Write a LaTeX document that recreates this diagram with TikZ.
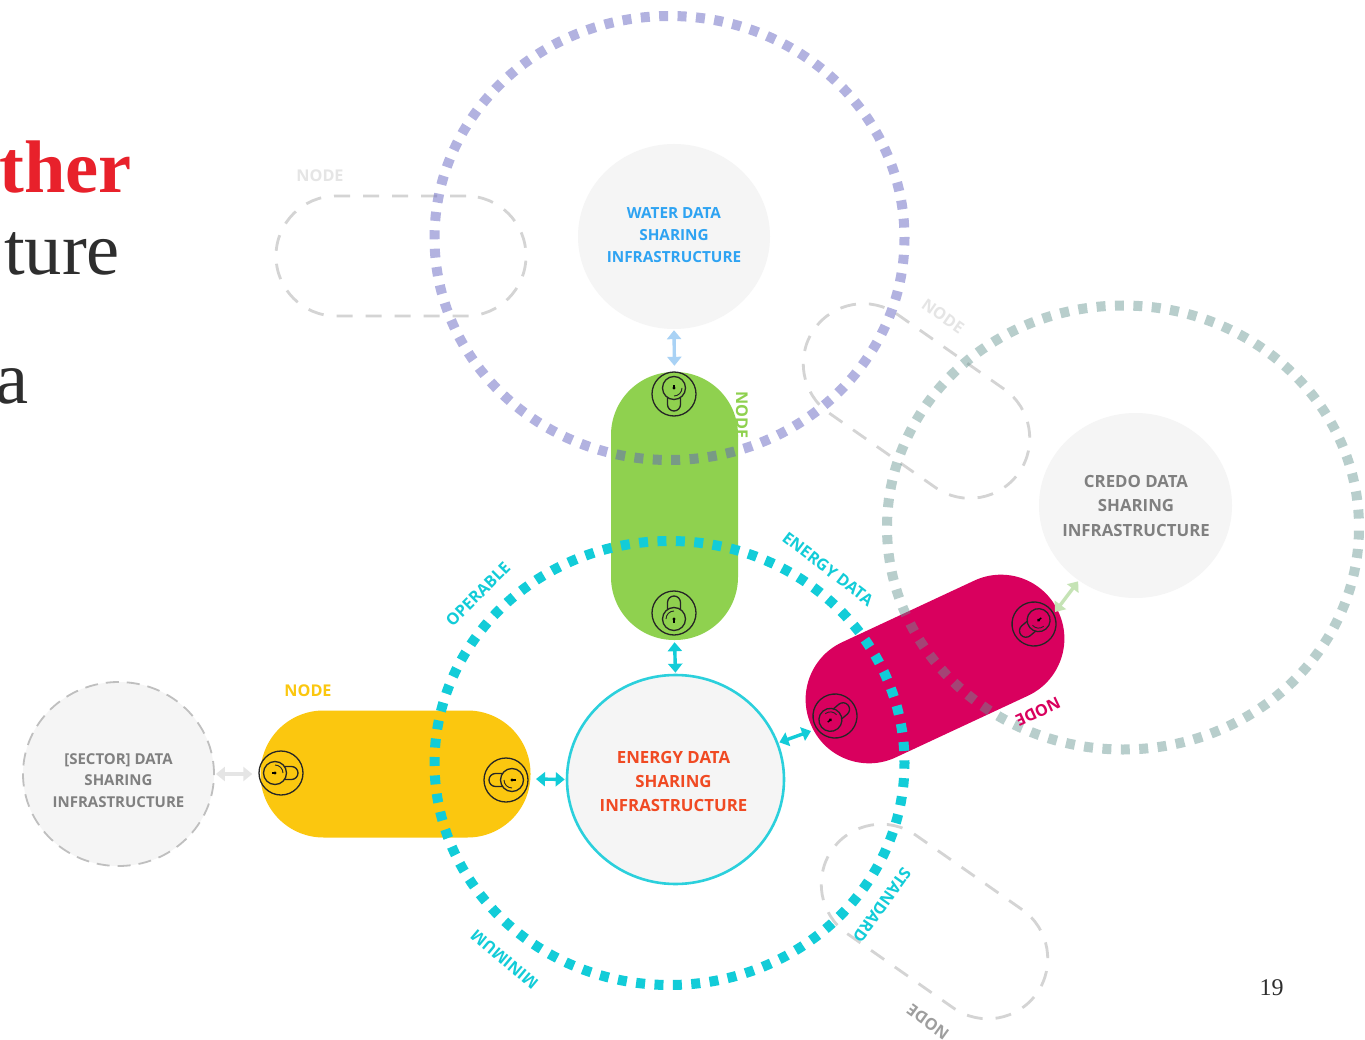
\documentclass[tikz,border=0pt]{standalone}
\usepackage{fontspec}
\setmainfont{Open Sans}
\newfontfamily\slidefont{Liberation Serif}
\usetikzlibrary{shapes.geometric,arrows.meta}
\definecolor{cgreen}{HTML}{8FD14F}
\definecolor{cyellow}{HTML}{FBC70F}
\definecolor{cmag}{HTML}{D9005E}
\definecolor{ccyan}{HTML}{12CCD8}
\definecolor{cring}{HTML}{2BD0DC}
\definecolor{cfill}{HTML}{F5F5F5}
\definecolor{cpurp}{RGB}{98,98,192}
\definecolor{cteal}{RGB}{102,150,146}
\definecolor{cdash}{HTML}{D4D4D4}
\definecolor{cred}{HTML}{E8212B}
\definecolor{cwater}{RGB}{46,163,242}
\definecolor{cenergy}{RGB}{240,74,35}
\definecolor{cablue}{RGB}{169,210,245}
\definecolor{cagreen}{RGB}{197,227,181}
\tikzset{
  x=1pt,y=-1pt,
  pill/.style={rectangle,rounded corners=63pt,inner sep=0pt,minimum width=270pt,minimum height=127pt,draw=none},
  ghost/.style={pill,draw=cdash,fill=none,line width=2.8pt,dash pattern=on 16pt off 13pt,minimum width=250pt,minimum height=120pt,rounded corners=60pt},
  ring/.style={line width=10pt,dash pattern=on 9pt off 9.42pt},
  hub/.style={ellipse,fill=cfill,inner sep=0pt},
  hubtext/.style={inner sep=0pt,align=center,font=\fontsize{15.3pt}{22pt}\selectfont\bfseries},
  tag/.style={inner sep=0pt,font=\fontsize{16.2pt}{18pt}\selectfont\bfseries},
  link/.style={line width=3.4pt,{Triangle[length=9pt,width=14pt]}-{Triangle[length=9pt,width=14pt]}},
  slide/.style={inner sep=0pt,anchor=base west,font=\fontsize{74.5pt}{80pt}\slidefont},
  lockicon/.pic={
    \draw[line width=1.3pt,draw=black!85] (0,0) circle[radius=22pt];
    \draw[line width=1.3pt,draw=black!85] (0,6) circle[radius=11.5pt];
    \draw[line width=1.3pt,draw=black!85] (-6.5,-3.5) -- (-6.5,-10.5) arc[start angle=180,end angle=0,radius=6.5pt] -- (6.5,-3.5);
    \draw[line width=.9pt,draw=black!85] (-8,6) arc[start angle=180,end angle=90,radius=8pt];
    \fill[black] (0,6) circle[radius=1.7pt];
    \fill[black] (-.7,6) rectangle (.7,9.5);
  }
}
\begin{document}
\begin{tikzpicture}
\useasboundingbox[fill=white] (0,0) rectangle (1365,1040);
% slide text
\node[slide,text=cred,font=\fontsize{74.5pt}{80pt}\slidefont\bfseries] (t1) at (-1,193) {ther};
\node[slide,text=black!82] (t2) at (4,275) {ture};
\node[slide,text=black!82] (t3) at (-5,403) {a};
\node[inner sep=0pt,anchor=base,text=black!82,font=\fontsize{24pt}{26pt}\slidefont] (pg) at (1271.5,995) {19};
% ghost nodes
\node[ghost] (g1) at (401,256) {};
\node[ghost,rotate=-35] (g2) at (916.5,401) {};
\node[ghost,rotate=-35] (g3) at (934.5,921.5) {};
\node[tag,text=black!10] (n1) at (320,176) {NODE};
\node[tag,text=black!10,rotate=-35] (n2) at (943,316) {NODE};
\node[tag,text=black!38,rotate=144] (n3) at (928,1022) {NODE};
% hubs
\node[hub,minimum width=192pt,minimum height=185pt] (water) at (674,236.5) {};
\node[hubtext,text=cwater] (waterlabel) at (674,235) {WATER DATA\\SHARING\\INFRASTRUCTURE};
\node[hub,minimum width=193pt,minimum height=185pt] (credo) at (1135.5,505.5) {};
\node[hubtext,text=black!50,font=\fontsize{16.8pt}{24.5pt}\selectfont\bfseries] (credolabel) at (1136,505.5) {CREDO DATA\\SHARING\\INFRASTRUCTURE};
\node[hub,minimum width=191pt,minimum height=184pt,draw=black!25,line width=1.8pt,dash pattern=on 13pt off 8pt] (sector) at (118.5,774) {};
\node[hubtext,text=black!50,font=\fontsize{15pt}{21.5pt}\selectfont\bfseries] (sectorlabel) at (118.5,780.5) {[SECTOR] DATA\\SHARING\\INFRASTRUCTURE};
\node[hub,minimum width=217pt,minimum height=209pt,draw=cring,line width=2.6pt] (energy) at (675.5,779.5) {};
\node[hubtext,text=cenergy,font=\fontsize{16.8pt}{24pt}\selectfont\bfseries] (energylabel) at (673.5,781) {ENERGY DATA\\SHARING\\INFRASTRUCTURE};
% pills
\node[pill,fill=cgreen,minimum width=127pt,minimum height=268pt] (green) at (674.5,506) {};
\node[pill,fill=cyellow] (yellow) at (395.5,774) {};
\node[pill,fill=cmag,rotate=25,minimum width=272pt] (magenta) at (935,669) {};
% rings
\draw[ring,cpurp,opacity=.49,dash phase=8pt] (669.5,238) ellipse[x radius=235pt,y radius=222pt];
\draw[ring,ccyan,dash phase=6.3pt] (669.5,763) ellipse[x radius=235pt,y radius=222pt];
\draw[ring,cteal,opacity=.46,dash phase=9.5pt] (1123,527.5) ellipse[x radius=236pt,y radius=222pt];
% connectors
\coordinate (magW) at (811,731);
\coordinate (magE) at (1055,612);
\coordinate (yelE) at (536,779);
\draw[link,color=cablue,shorten <=1pt,shorten >=6pt] (water.south) -- (green.north);
\draw[link,color=ccyan,shorten <=2pt,shorten >=1pt] (green.south) -- (energy.north);
\draw[link,color=ccyan,shorten >=1pt] (yelE) -- (energy.west);
\draw[link,color=black!10,shorten <=1pt,shorten >=8pt] (sector.east) -- (yellow.west);
\draw[link,color=ccyan,shorten <=1pt] (energy) -- (magW);
\draw[link,color=cagreen,shorten <=1pt] (credo) -- (magE);
% tags
\node[tag,text=cyellow] (n4) at (308,691) {NODE};
\node[tag,text=cgreen,rotate=-90] (n5) at (742,415) {NODE};
\node[tag,text=cmag,rotate=205] (n6) at (1038,712) {NODE};
\node[tag,text=ccyan,rotate=45] (n7) at (478,594) {OPERABLE};
\node[tag,text=ccyan,rotate=-37.5] (n8) at (828,569) {ENERGY DATA};
\node[tag,text=ccyan,rotate=234.5] (n9) at (882,905) {STANDARD};
\node[tag,text=ccyan,rotate=140] (n10) at (504.5,959.5) {MINIMUM};
% locks
\pic[rotate=180] at (674,394) {lockicon};
\pic at (674,613) {lockicon};
\pic[rotate=-90] at (281,773) {lockicon};
\pic[rotate=90] at (506,780) {lockicon};
\pic[rotate=-50] at (835,716) {lockicon};
\pic[rotate=130] at (1034,624) {lockicon};
\end{tikzpicture}
\end{document}
